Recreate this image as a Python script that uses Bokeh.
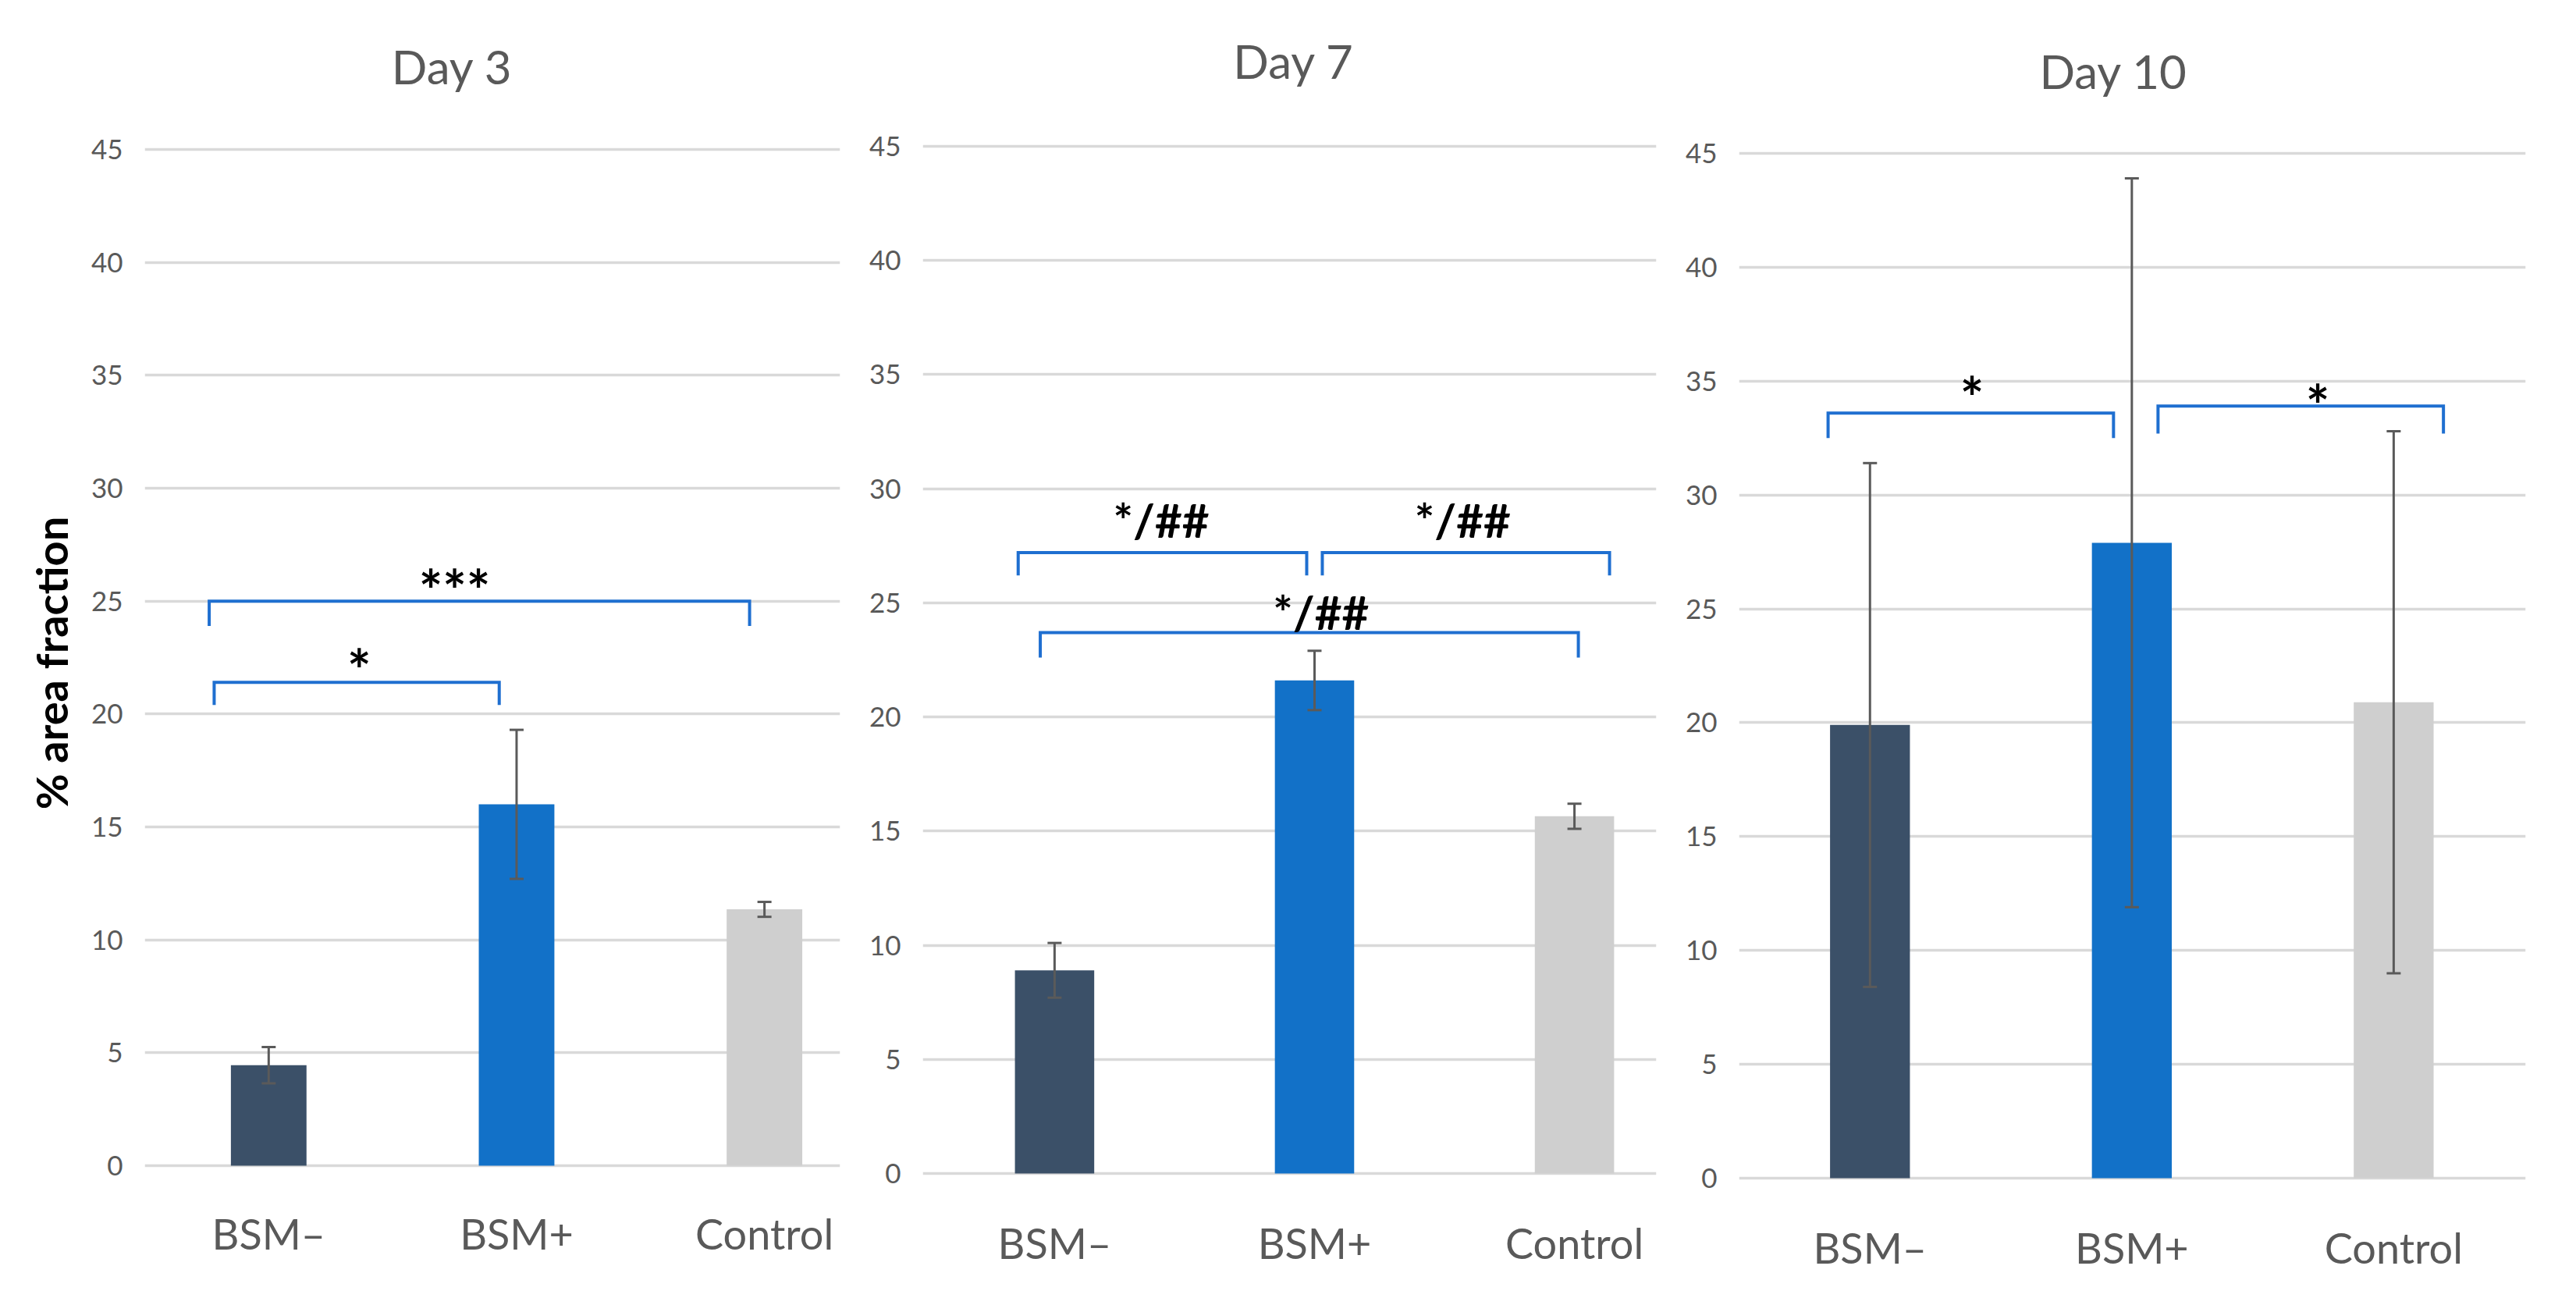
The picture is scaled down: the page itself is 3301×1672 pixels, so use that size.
from bokeh.plotting import figure
from bokeh.models import Range1d, FixedTicker, ColumnDataSource, Whisker, TeeHead, LinearAxis
from bokeh.layouts import row
from bokeh.embed import file_html
from bokeh.resources import INLINE
from bokeh.core.properties import value

# ---------------- data ----------------
categories = ["BSM\u2013", "BSM+", "Control"]
days = ["Day 3", "Day 7", "Day 10"]

day3_mean = [4.45, 16.0, 11.35]
day3_err = [0.8, 3.3, 0.33]
day7_mean = [8.9, 21.6, 15.65]
day7_err = [1.2, 1.3, 0.55]
day10_mean = [19.9, 27.9, 20.9]
day10_err = [11.5, 16.0, 11.9]

y_ticks = [0, 5, 10, 15, 20, 25, 30, 35, 40, 45]
y_axis_label = "% area fraction"

# significance brackets (x in category units, heights in % area fraction)
day3_sig_start = [-0.22, -0.24]
day3_sig_end = [0.93, 1.94]
day3_sig_level = [21.4, 25.0]
day3_sig_leg = [20.4, 23.9]
day3_sig_text = ["*", "***"]
day3_sig_text_x = [0.365, 0.75]
day3_sig_text_y = [21.95, 25.5]

day7_sig_start = [-0.14, 1.03, -0.055]
day7_sig_end = [0.97, 2.135, 2.015]
day7_sig_level = [27.2, 27.2, 23.7]
day7_sig_leg = [26.2, 26.2, 22.6]
day7_sig_text = ["*/##", "*/##", "*/##"]
day7_sig_text_x = [0.41, 1.57, 1.025]
day7_sig_text_y = [28.65, 28.65, 24.6]

day10_sig_start = [-0.16, 1.10]
day10_sig_end = [0.93, 2.19]
day10_sig_level = [33.6, 33.9]
day10_sig_leg = [32.5, 32.7]
day10_sig_text = ["*", "*"]
day10_sig_text_x = [0.39, 1.71]
day10_sig_text_y = [34.3, 33.95]

# ---------------- styling / layout ----------------
bar_colors = ["#3b5068", "#1271c8", "#cfcfcf"]
grid_color = "#d9d9d9"
text_grey = "#595959"
err_color = "#5a5a5a"
bracket_color = "#1f6fd0"
FONT = "Lato"

FIG_TOP = 8
FIG_H = 1656
FRAME_T = 190     # common frame top (screen px)
FRAME_B = 1524    # common frame bottom (screen px)

layout = [
    dict(fx0=8, fx1=1117, fl=193, fr=1084, y0=1501, y45=199, xr=(-0.5, 2.305),
         tx=0.74, tstand=56, xstand=25),
    dict(fx0=1117, fx1=2147, fl=1190, fr=2130, y0=1511, y45=195, xr=(-0.507, 2.315),
         tx=0.92, tstand=63, xstand=37),
    dict(fx0=2147, fx1=3293, fl=2236, fr=3244, y0=1517, y45=204, xr=(-0.5, 2.504),
         tx=0.93, tstand=50, xstand=43),
]

means = [day3_mean, day7_mean, day10_mean]
errs = [day3_err, day7_err, day10_err]
sigs = [
    (day3_sig_start, day3_sig_end, day3_sig_level, day3_sig_leg, day3_sig_text, day3_sig_text_x, day3_sig_text_y),
    (day7_sig_start, day7_sig_end, day7_sig_level, day7_sig_leg, day7_sig_text, day7_sig_text_x, day7_sig_text_y),
    (day10_sig_start, day10_sig_end, day10_sig_level, day10_sig_leg, day10_sig_text, day10_sig_text_x, day10_sig_text_y),
]

figs = []
for i, L in enumerate(layout):
    ppu = (L["y0"] - L["y45"]) / 45.0
    y_start = (L["y0"] - FRAME_B) / ppu
    y_end = (L["y0"] - FRAME_T) / ppu
    p = figure(
        width=L["fx1"] - L["fx0"],
        height=FIG_H,
        x_range=Range1d(*L["xr"]),
        y_range=Range1d(y_start, y_end),
        output_backend="svg",
        toolbar_location=None,
        min_border_left=int(round(L["fl"] - L["fx0"])),
        min_border_right=int(round(L["fx1"] - L["fr"])),
        min_border_top=int(round(FRAME_T - FIG_TOP)),
        min_border_bottom=int(round(FIG_TOP + FIG_H - FRAME_B)),
    )
    p.outline_line_color = None
    p.background_fill_color = "white"
    p.border_fill_color = "white"

    # panel title, drawn as the single label of an axis above the frame
    title_axis = LinearAxis(
        ticker=FixedTicker(ticks=[L["tx"]]),
        major_label_overrides={L["tx"]: days[i]},
        axis_line_color=None,
        major_tick_line_color=None,
        minor_tick_line_color=None,
        major_label_standoff=L["tstand"],
        major_label_text_font=FONT,
        major_label_text_font_size="60px",
        major_label_text_color=text_grey,
    )
    p.add_layout(title_axis, "above")

    # grid
    p.xgrid.visible = False
    p.ygrid.grid_line_color = grid_color
    p.ygrid.grid_line_width = 3.5

    # y axis
    p.yaxis.ticker = FixedTicker(ticks=y_ticks)
    p.yaxis.axis_line_color = None
    p.yaxis.major_tick_line_color = None
    p.yaxis.minor_tick_line_color = None
    p.yaxis.major_label_standoff = 22
    p.yaxis.major_label_text_font = FONT
    p.yaxis.major_label_text_font_size = "35px"
    p.yaxis.major_label_text_color = text_grey
    if i == 0:
        p.yaxis.axis_label = y_axis_label
        p.yaxis.axis_label_text_font = FONT
        p.yaxis.axis_label_text_font_style = "bold"
        p.yaxis.axis_label_text_font_size = "56px"
        p.yaxis.axis_label_text_color = "black"
        p.yaxis.axis_label_standoff = 15

    # x axis (the baseline is the y=0 grid line)
    xs = list(range(len(categories)))
    xaxis = p.below[0]
    xaxis.ticker = FixedTicker(ticks=xs)
    xaxis.major_label_overrides = {k: categories[k] for k in xs}
    xaxis.axis_line_color = None
    xaxis.major_tick_line_color = None
    xaxis.minor_tick_line_color = None
    xaxis.major_label_standoff = L["xstand"]
    xaxis.major_label_text_font = FONT
    xaxis.major_label_text_font_size = "54px"
    xaxis.major_label_text_color = text_grey

    # bars
    m = means[i]
    e = errs[i]
    src = ColumnDataSource(dict(
        x=xs, top=m, color=bar_colors,
        upper=[a + b for a, b in zip(m, e)],
        lower=[a - b for a, b in zip(m, e)],
    ))
    p.vbar(x="x", top="top", bottom=0, width=0.305, fill_color="color", line_color=None, source=src)

    w = Whisker(source=src, base="x", upper="upper", lower="lower",
                line_color=err_color, line_width=3,
                upper_head=TeeHead(size=18, line_color=err_color, line_width=3),
                lower_head=TeeHead(size=18, line_color=err_color, line_width=3))
    w.level = "overlay"
    p.add_layout(w)

    # significance brackets
    s0, s1, lvl, leg, txt, tx, ty = sigs[i]
    bx = [[a, a, b, b] for a, b in zip(s0, s1)]
    by = [[g, h, h, g] for h, g in zip(lvl, leg)]
    p.multi_line(xs=bx, ys=by, line_color=bracket_color, line_width=4, line_join="miter")
    sizes = ["72px" if t.strip("*") == "" else "60px" for t in txt]
    p.text(x=tx, y=ty, text=txt, text_font=value(FONT), text_font_style="bold",
           text_font_size=sizes, text_align="center", text_baseline="alphabetic",
           text_color="black")

    figs.append(p)

layout_row = row(*figs, spacing=0)
open("out.html", "w").write(file_html(layout_row, INLINE))
